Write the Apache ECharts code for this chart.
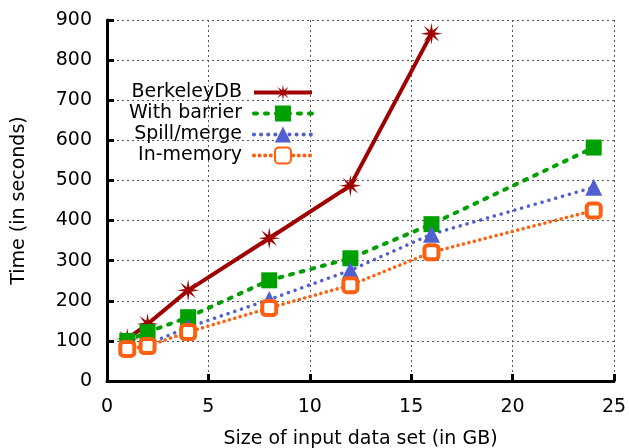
<!DOCTYPE html>
<html>
<head>
<meta charset="utf-8">
<script src="https://cdn.jsdelivr.net/npm/echarts@6/dist/echarts.min.js"></script>
<style>
  html, body { margin: 0; padding: 0; background: #fff; }
  #chart { width: 629px; height: 448px; }
</style>
</head>
<body>
<div id="chart"></div>
<script>
// data
const sizesGB = [1, 2, 4, 8, 12, 16, 24];
const berkeleyDB = [105, 142, 226, 356, 487, 866];
const withBarrier = [100, 122, 159, 251, 306, 391, 582];
const spillMerge = [85, 92, 134, 203, 276, 366, 483];
const inMemory = [80, 87, 122, 182, 239, 321, 425];

const FONT = '"DejaVu Sans", sans-serif';
const STAR = 'path://M0,-10L1.2,-2.9L7.1,-7.1L2.9,-1.2L10,0L2.9,1.2L7.1,7.1L1.2,2.9L0,10L-1.2,2.9L-7.1,7.1L-2.9,1.2L-10,0L-2.9,-1.2L-7.1,-7.1L-1.2,-2.9Z';

const pairs = (xs, ys) => ys.map((y, i) => [xs[i], y]);

const chart = echarts.init(document.getElementById('chart'), null, { renderer: 'canvas' });

const axisCommon = {
    axisLine: { show: true, lineStyle: { color: '#000', width: 3 } },
    axisTick: { show: true, inside: true, length: 7, lineStyle: { color: '#000', width: 3 } },
    splitLine: { show: true, lineStyle: { color: '#555', width: 1, type: [2, 3] } },
    axisLabel: { color: '#000', fontSize: 19, fontFamily: FONT, margin: 15 },
    nameTextStyle: { color: '#000', fontSize: 19, fontFamily: FONT },
};

chart.setOption({
    backgroundColor: '#fff',
    animation: false,
    grid: { left: 107, right: 15, top: 20, bottom: 67, outerBoundsMode: 'none', containLabel: false },
    xAxis: {
        ...axisCommon,
        type: 'value',
        min: 0,
        max: 25,
        interval: 5,
        name: 'Size of input data set (in GB)',
        nameLocation: 'middle',
        nameGap: 49,
        axisLabel: { ...axisCommon.axisLabel, margin: 17 },
    },
    yAxis: {
        ...axisCommon,
        type: 'value',
        min: 0,
        max: 900,
        interval: 100,
        name: 'Time (in seconds)',
        nameLocation: 'middle',
        nameGap: 78,
    },
    legend: {
        orient: 'vertical',
        left: 124,
        top: 78,
        align: 'right',
        itemWidth: 58,
        itemHeight: 20,
        itemGap: 2,
        lineStyle: { width: 4 },
        textStyle: {
            color: '#000', fontSize: 19, fontFamily: FONT,
            width: 113, align: 'right', padding: [0, 7, 0, 0],
        },
        data: ['BerkeleyDB', 'With barrier', 'Spill/merge', 'In-memory'],
    },
    series: [
        {
            name: 'BerkeleyDB',
            type: 'line',
            data: pairs(sizesGB, berkeleyDB),
            symbol: STAR,
            symbolSize: 22,
            color: '#a00000',
            lineStyle: { color: '#a00000', width: 4 },
            itemStyle: { color: '#a00000' },
        },
        {
            name: 'With barrier',
            type: 'line',
            data: pairs(sizesGB, withBarrier),
            symbol: 'rect',
            symbolSize: 16,
            color: '#00a000',
            lineStyle: { color: '#00a000', width: 4, type: [3, 8], cap: 'round' },
            itemStyle: { color: '#00a000' },
        },
        {
            name: 'Spill/merge',
            type: 'line',
            data: pairs(sizesGB, spillMerge),
            symbol: 'triangle',
            symbolSize: 17,
            color: '#5060d0',
            lineStyle: { color: '#5060d0', width: 3.5, type: [0.1, 7], cap: 'round' },
            itemStyle: { color: '#5060d0' },
        },
        {
            name: 'In-memory',
            type: 'line',
            data: pairs(sizesGB, inMemory),
            symbol: 'roundRect',
            symbolSize: 14,
            color: '#ff6010',
            lineStyle: { color: '#ff6010', width: 3.5, type: [0.1, 5.5], cap: 'round' },
            itemStyle: { color: '#fff', borderColor: '#ff6010', borderWidth: 4 },
        },
    ],
});
</script>
</body>
</html>
